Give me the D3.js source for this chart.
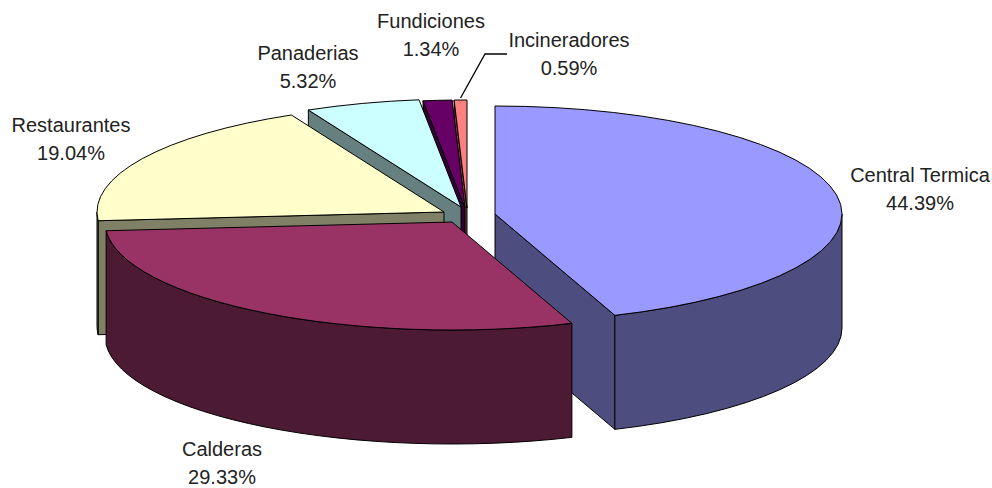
<!DOCTYPE html>
<html>
<head>
<meta charset="utf-8">
<script src="https://cdnjs.cloudflare.com/ajax/libs/d3/7.8.5/d3.min.js"></script>
<style>
html,body{margin:0;padding:0;background:#fff;}
svg{display:block;}
text{font-family:"Liberation Sans",Arial,sans-serif;font-size:20px;fill:#222;text-anchor:middle;}
</style>
</head>
<body>
<svg id="chart" width="992" height="488"></svg>
<script>
// Shares of emissions by source
const categories = ["Central Termica","Calderas","Restaurantes","Panaderias","Fundiciones","Incineradores"];
const shares = [44.39,29.33,19.04,5.32,1.34,0.59];

// Appearance of each wedge
const topColors = ["#9999FF","#993366","#FFFFCC","#CCFFFF","#660066","#FF8080"];
const sideColors = ["#4D4D80","#4D1A33","#808066","#668080","#330033","#804040"];

// Pulled-out position of each wedge's apex, and its label anchor
const apexX = [495,452,444,461,465,467];
const apexY = [214,222,212,207,208,208];
const labelX = [920,222,71,308,431,569];
const labelY = [175,449,125,53,21,40];
const paintOrder = [5,4,3,2,0,1];

const radiusX = 347, radiusY = 108, depth = 114;

const svg = d3.select("#chart");
const wedges = d3.pie().sort(null).value(d => d)(shares);

// Project a pie angle onto the tilted disc around a wedge's apex
const project = (i, a, drop = 0) => [
  apexX[i] + radiusX * Math.sin(a),
  apexY[i] - radiusY * Math.cos(a) + drop
];
const arcTo = (p, sweep, large) => `A${radiusX},${radiusY} 0 ${large} ${sweep} ${p[0]},${p[1]}`;

function drawWedge(i) {
  const {startAngle: a0, endAngle: a1} = wedges[i];
  const g = svg.append("g")
    .attr("stroke", "#000").attr("stroke-width", 1).attr("stroke-linejoin", "round");
  const side = sideColors[i];
  const c = [apexX[i], apexY[i]];

  // Cut faces turned towards the viewer
  const cut = a => {
    const p = project(i, a), q = project(i, a, depth);
    g.append("path").attr("fill", side)
      .attr("d", `M${c}L${p}L${q}L${c[0]},${c[1] + depth}Z`);
  };
  if (Math.sin(a0) < -1e-6) cut(a0);
  if (Math.sin(a1) > 1e-6) cut(a1);

  // Rim along the near half of the disc
  const r0 = Math.max(a0, Math.PI / 2), r1 = Math.min(a1, 3 * Math.PI / 2);
  if (r1 > r0) {
    g.append("path").attr("fill", side).attr("d",
      `M${project(i, r0)}` + arcTo(project(i, r1), 1, 0) +
      `L${project(i, r1, depth)}` + arcTo(project(i, r0, depth), 0, 0) + "Z");
  }

  // Top face
  g.append("path").attr("fill", topColors[i]).attr("d",
    `M${c}L${project(i, a0)}` + arcTo(project(i, a1), 1, a1 - a0 > Math.PI ? 1 : 0) + "Z");
}
paintOrder.forEach(drawWedge);

// Leader line for the smallest wedge
const last = shares.length - 1;
const leaderStart = project(last, (wedges[last].startAngle + wedges[last].endAngle) / 2);
svg.append("path").attr("fill", "none").attr("stroke", "#000").attr("stroke-width", 1.3)
  .attr("d", d3.line()([[leaderStart[0], leaderStart[1] - 2], [485, 54], [507, 54]]));

// Category and percentage labels
const fmt = d3.format(".2f");
categories.forEach((name, i) => {
  svg.append("text").attr("x", labelX[i]).attr("y", labelY[i] + 7).text(name);
  svg.append("text").attr("x", labelX[i]).attr("y", labelY[i] + 35).text(fmt(shares[i]) + "%");
});
</script>
</body>
</html>
